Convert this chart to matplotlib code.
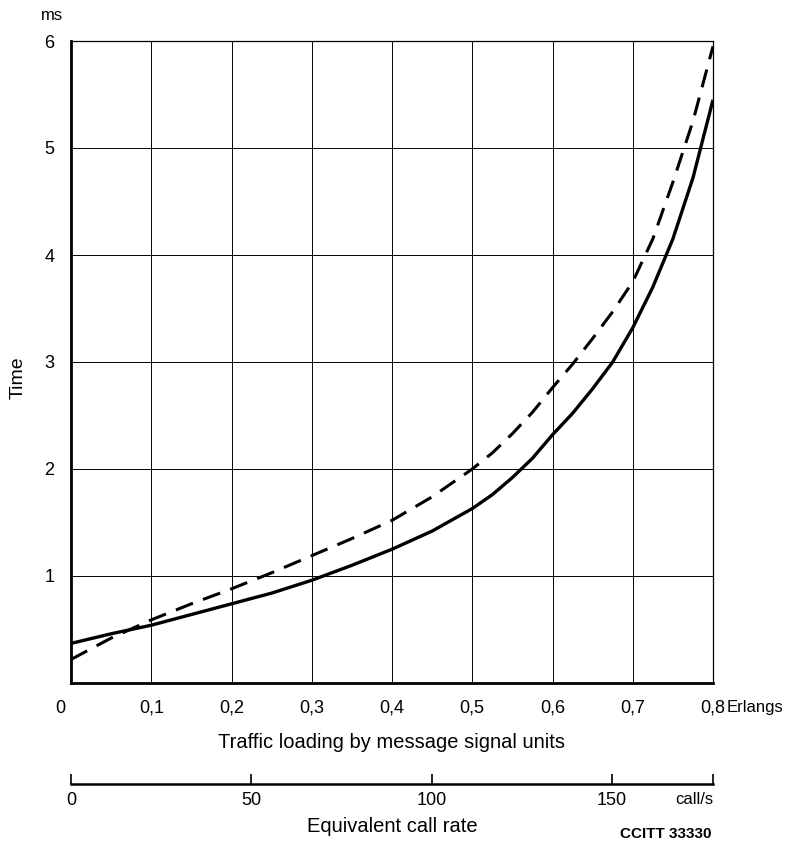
import matplotlib.pyplot as plt

# values (Erlangs -> ms)
load = [0.0, 0.05, 0.1, 0.15, 0.2, 0.25, 0.3, 0.35, 0.4, 0.45, 0.5, 0.525, 0.55,
        0.575, 0.6, 0.625, 0.65, 0.675, 0.7, 0.725, 0.75, 0.775, 0.8]
time_solid = [0.37, 0.46, 0.54, 0.64, 0.74, 0.84, 0.96, 1.10, 1.25, 1.42, 1.63, 1.76, 1.92,
              2.10, 2.32, 2.52, 2.75, 3.0, 3.32, 3.70, 4.15, 4.72, 5.45]
time_dashed = [0.22, 0.42, 0.59, 0.74, 0.88, 1.03, 1.19, 1.35, 1.52, 1.74, 2.0, 2.15, 2.33,
               2.53, 2.76, 2.98, 3.22, 3.47, 3.75, 4.15, 4.68, 5.25, 5.95]

x_ticks = [0.1, 0.2, 0.3, 0.4, 0.5, 0.6, 0.7, 0.8]
x_labels = ['0,1', '0,2', '0,3', '0,4', '0,5', '0,6', '0,7', '0,8']
y_ticks = [1, 2, 3, 4, 5, 6]
call_ticks = [0, 50, 100, 150]
call_rate_max = 178

plt.rcParams['font.family'] = ['Liberation Sans', 'DejaVu Sans']

fig = plt.figure(figsize=(7.94, 8.43), dpi=100)
L, R, B, T = 71 / 794, 713 / 794, 1 - 683 / 843, 1 - 41 / 843
ax = fig.add_axes([L, B, R - L, T - B])

ax.plot(load, time_solid, color='black', lw=2.4, solid_capstyle='butt')
ax.plot(load, time_dashed, color='black', lw=2.2, dashes=(6, 3.5))

ax.set_xlim(0, 0.8)
ax.set_ylim(0, 6)
ax.set_xticks(x_ticks)
ax.set_yticks(y_ticks)
ax.grid(True, color='black', lw=0.7)
ax.tick_params(length=0, labelsize=13)
ax.tick_params(axis='x', pad=12)
ax.tick_params(axis='y', pad=12)
ax.set_xticklabels(x_labels)
ax.set_yticklabels([str(v) for v in y_ticks])
for s in ['left', 'bottom']:
    ax.spines[s].set_linewidth(2.0)
for s in ['top', 'right']:
    ax.spines[s].set_linewidth(0.9)

ax.text(-0.017, -0.026, '0', transform=ax.transAxes, ha='center', va='top', fontsize=13)
ax.text(1.022, -0.026, 'Erlangs', transform=ax.transAxes, ha='left', va='top', fontsize=12)
fig.text(52 / 794, 1 - 15 / 843, 'ms', ha='center', va='center', fontsize=12)
fig.text(18 / 794, 1 - 378 / 843, 'Time', ha='center', va='center', rotation=90, fontsize=14)
fig.text(392 / 794, 1 - 742 / 843, 'Traffic loading by message signal units',
         ha='center', va='center', fontsize=14.5)

# secondary scale: equivalent call rate
yc = 1 - 784 / 843
ax2 = fig.add_axes([L, yc, R - L, 1e-6])
ax2.set_xlim(0, call_rate_max)
ax2.set_ylim(0, 1)
for s in ['left', 'right', 'top']:
    ax2.spines[s].set_visible(False)
ax2.spines['bottom'].set_linewidth(1.8)
ax2.set_yticks([])
ax2.set_xticks(call_ticks + [call_rate_max])
ax2.set_xticklabels([str(v) for v in call_ticks] + [''], fontsize=13)
ax2.tick_params(axis='x', direction='in', length=7, width=1.2, pad=6)
ax2.annotate('call/s', xy=(call_rate_max, 0), xytext=(0, -6), textcoords='offset points',
             ha='right', va='top', fontsize=12)

fig.text(392 / 794, 1 - 827 / 843, 'Equivalent call rate', ha='center', va='center',
         fontsize=14.5)
fig.text(712 / 794, 1 - 841 / 843, 'CCITT 33330', ha='right', va='bottom', fontsize=11,
         fontweight='bold')

fig.savefig('out.png', dpi=100)
